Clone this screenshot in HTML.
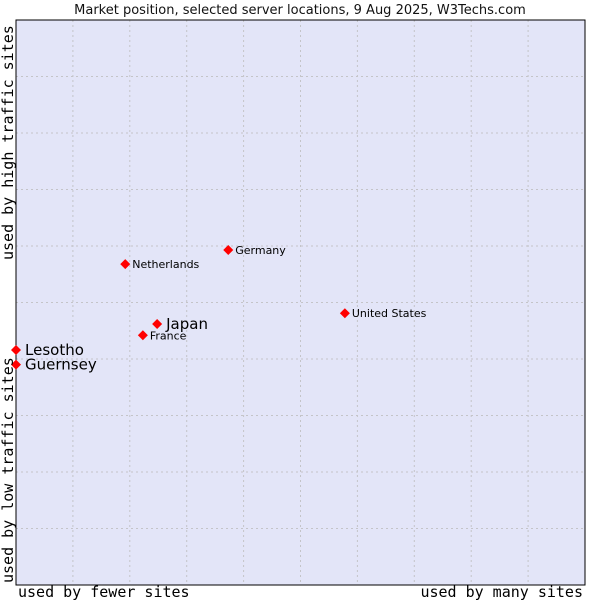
<!DOCTYPE html>
<html><head><meta charset="utf-8"><style>
body{margin:0;background:#fff}
svg{display:block}
</style></head><body>
<svg id="chart" width="600" height="600" xmlns="http://www.w3.org/2000/svg">
<text x="300" y="14" text-anchor="middle" font-family="DejaVu Sans, sans-serif" font-size="13" fill="#111">Market position, selected server locations, 9 Aug 2025, W3Techs.com</text>
<rect x="16" y="20" width="569" height="565" fill="#e3e5f8"/>
<g id="grid"></g>
<rect x="16" y="20" width="569" height="565" fill="none" stroke="#000" stroke-width="1"/>
<g id="points"></g>
<text x="18" y="597" font-family="DejaVu Sans Mono, monospace" font-size="15" fill="#000">used by fewer sites</text>
<text x="583" y="597" text-anchor="end" font-family="DejaVu Sans Mono, monospace" font-size="15" fill="#000">used by many sites</text>
<text transform="translate(13,583) rotate(-90)" font-family="DejaVu Sans Mono, monospace" font-size="15" fill="#000">used by low traffic sites</text>
<text transform="translate(13,260) rotate(-90)" font-family="DejaVu Sans Mono, monospace" font-size="15" fill="#000">used by high traffic sites</text>
</svg>
<script>
const names=["Germany","Netherlands","United States","Japan","France","Lesotho","Guernsey"];
const xValues=[37.3,19.2,57.8,24.8,22.3,0,0];
const yValues=[59.3,56.8,48.1,46.2,44.2,41.6,39.0];
const bigLabel=[false,false,false,true,false,true,true];
const gridTicks=[10,20,30,40,50,60,70,80,90];
const X0=16,X1=585,Y0=585,Y1=20;
const sx=v=>X0+v/100*(X1-X0);
const sy=v=>Y0-v/100*(Y0-Y1);
const NS="http://www.w3.org/2000/svg";
const grid=document.getElementById('grid');
gridTicks.forEach(t=>{
  const v=document.createElementNS(NS,'line');
  v.setAttribute('x1',sx(t));v.setAttribute('x2',sx(t));v.setAttribute('y1',Y1);v.setAttribute('y2',Y0);
  v.setAttribute('stroke','#c4c4c8');v.setAttribute('stroke-dasharray','2,3');
  
  
  grid.appendChild(v);
  const h=document.createElementNS(NS,'line');
  h.setAttribute('y1',sy(t));h.setAttribute('y2',sy(t));h.setAttribute('x1',X0);h.setAttribute('x2',X1);
  h.setAttribute('stroke','#c4c4c8');h.setAttribute('stroke-dasharray','2,3');
  
  
  grid.appendChild(h);
});
const pts=document.getElementById('points');
names.forEach((n,i)=>{
  const x=sx(xValues[i]),y=sy(yValues[i]);
  const d=document.createElementNS(NS,'polygon');
  d.setAttribute('points',`${x},${y-5} ${x+5},${y} ${x},${y+5} ${x-5},${y}`);
  d.setAttribute('fill','#f00');
  
  
  pts.appendChild(d);
  const t=document.createElementNS(NS,'text');
  t.setAttribute('x',x+(bigLabel[i]?9:7));
  t.setAttribute('y',y+(bigLabel[i]?5:4));
  t.setAttribute('font-family','DejaVu Sans, sans-serif');
  t.setAttribute('font-size',bigLabel[i]?15:11);
  t.setAttribute('fill','#000');
  t.textContent=n;
  
  
  pts.appendChild(t);
});
</script>
</body></html>
